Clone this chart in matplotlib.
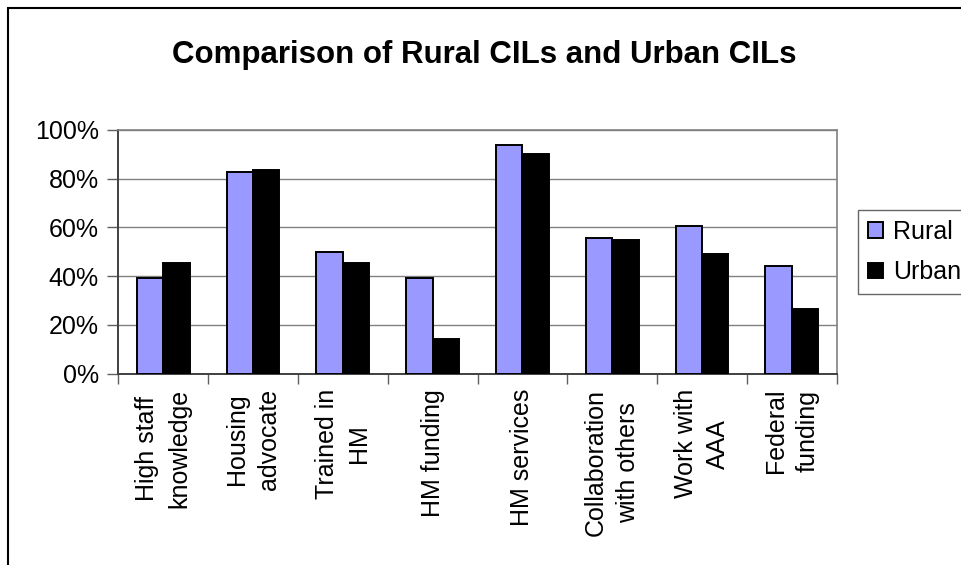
import matplotlib
matplotlib.use("Agg")
import matplotlib.pyplot as plt
from matplotlib.patches import Rectangle
from matplotlib.ticker import FixedLocator, FuncFormatter
import numpy as np

plt.rcParams['font.family'] = ['Liberation Sans', 'DejaVu Sans']

categories = ["High staff\nknowledge", "Housing\nadvocate", "Trained in\nHM", "HM funding",
              "HM services", "Collaboration\nwith others", "Work with\nAAA", "Federal\nfunding"]
rural = [39.4, 82.8, 49.9, 39.4, 94.0, 55.7, 60.5, 44.2]
urban = [45.3, 83.7, 45.3, 14.1, 90.2, 55.0, 49.3, 26.4]
series_names = ["Rural", "Urban"]

W, H = 961, 565
fig = plt.figure(figsize=(W / 100, H / 100), dpi=100)
ax = fig.add_axes([118.3 / W, 1 - 373.7 / H, (836.7 - 118.3) / W, (373.7 - 130) / H])

x = np.arange(len(categories)) + 0.5
bw = 0.295
b1 = ax.bar(x - bw / 2, rural, bw, color="#9999FF", edgecolor="black", linewidth=1.4,
            label=series_names[0], zorder=3)
b2 = ax.bar(x + bw / 2, urban, bw, color="black", edgecolor="black", linewidth=1.4,
            label=series_names[1], zorder=3)

ax.set_xlim(0, len(categories))
ax.set_ylim(0, 100)
ax.set_yticks(np.arange(0, 101, 20))
ax.yaxis.set_major_formatter(FuncFormatter(lambda v, p: f"{v:.0f}%"))
ax.yaxis.grid(True, color="#808080", linewidth=1.0, zorder=0)
ax.tick_params(axis="y", direction="out", length=8, width=1, color="#606060",
               labelsize=18, pad=6)

# category boundaries as major ticks, labels at centers as minor ticks
ax.xaxis.set_major_locator(FixedLocator(np.arange(0, len(categories) + 1)))
ax.xaxis.set_major_formatter(FuncFormatter(lambda v, p: ""))
ax.xaxis.set_minor_locator(FixedLocator(x))
ax.set_xticklabels(categories, minor=True, rotation=90, fontsize=18,
                   ha="center", va="top", multialignment="center", linespacing=1.45)
ax.tick_params(axis="x", which="major", direction="out", length=7, width=1, color="#606060")
ax.tick_params(axis="x", which="minor", length=0, pad=11)

for s in ["top", "right"]:
    ax.spines[s].set_color("#808080")
    ax.spines[s].set_linewidth(1.2)
for s in ["left", "bottom"]:
    ax.spines[s].set_color("#404040")
    ax.spines[s].set_linewidth(1.4)

fig.text(484 / W, 1 - 55 / H, "Comparison of Rural CILs and Urban CILs",
         ha="center", va="center", fontsize=22.5, fontweight="bold")

leg = fig.legend(handles=[b1, b2], loc="upper left", bbox_to_anchor=(858 / W, 1 - 210 / H),
                 frameon=True, fancybox=False, edgecolor="#404040", fontsize=18,
                 handlelength=0.6, handleheight=0.6, handletextpad=0.4, labelspacing=0.65,
                 borderpad=0.4, borderaxespad=0)
leg.get_frame().set_linewidth(1.0)

fig.patches.append(Rectangle((8 / W, -0.1), 2, 1 - 8 / H + 0.1, transform=fig.transFigure,
                             fill=False, edgecolor="black", linewidth=1.5))

fig.savefig("out.png", dpi=100)
